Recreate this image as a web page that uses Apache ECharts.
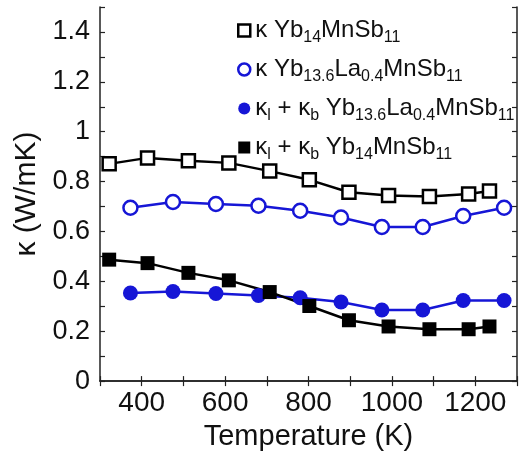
<!DOCTYPE html>
<html>
<head>
<meta charset="utf-8">
<script src="https://cdn.jsdelivr.net/npm/echarts@6/dist/echarts.min.js"></script>
<style>
  html, body { margin: 0; padding: 0; background: #fff; }
  #chart { width: 520px; height: 456px; }
</style>
</head>
<body>
<div id="chart"></div>
<script>
// kappa Yb14MnSb11 (open squares) and kl+kb Yb14MnSb11 (filled squares)
var tempYb14 = [322, 414, 512, 609, 707, 802, 897, 992, 1090, 1184, 1234]
var kapYb14 = [0.871, 0.895, 0.884, 0.875, 0.842, 0.807, 0.757, 0.744, 0.740, 0.750, 0.762]
var klbYb14 = [0.487, 0.473, 0.434, 0.404, 0.357, 0.301, 0.244, 0.219, 0.208, 0.208, 0.219]

// kappa Yb13.6La0.4MnSb11 (open circles) and kl+kb (filled circles)
var tempLa = [373, 475, 578, 680, 780, 878, 976, 1074, 1171, 1269]
var kapLa = [0.695, 0.718, 0.710, 0.703, 0.683, 0.656, 0.618, 0.618, 0.662, 0.695]
var klbLa = [0.353, 0.359, 0.351, 0.343, 0.334, 0.317, 0.285, 0.285, 0.323, 0.323]

var seriesNames = ['k14', 'k136', 'klb136', 'klb14']
var legendTexts = [
    '{a|κ Yb}{s|14}{a|MnSb}{s|11}',
    '{a|κ Yb}{s|13.6}{a|La}{s|0.4}{a|MnSb}{s|11}',
    '{a|κ}{s|l}{a| + κ}{s|b}{a| Yb}{s|13.6}{a|La}{s|0.4}{a|MnSb}{s|11}',
    '{a|κ}{s|l}{a| + κ}{s|b}{a| Yb}{s|14}{a|MnSb}{s|11}'
]

var BLUE = '#1616d6'
var FONT = "'Liberation Sans', Arial, Helvetica, sans-serif"

function pairs(xs, ys){
    return xs.map(function(x, i){ return [x, ys[i]] })
}

var chart = echarts.init(document.getElementById('chart'))

var axisLine = { show: true, lineStyle: { color: '#222', width: 1.5 } }
var tickStyle = { show: true, inside: true, length: 5, lineStyle: { color: '#222', width: 1.2 } }

var option = {
    animation: false,
    backgroundColor: '#fff',
    grid: { left: 100, right: -4, top: 7, bottom: 72 },
    legend: {
        orient: 'vertical',
        left: 232,
        top: 10,
        itemWidth: 12,
        itemHeight: 12,
        itemGap: 8,
        selectedMode: false,
        formatter: function(name){
            return legendTexts[seriesNames.indexOf(name)]
        },
        textStyle: {
            color: '#111',
            fontFamily: FONT,
            rich: {
                a: { fontSize: 24, lineHeight: 24, fontFamily: FONT, color: '#111' },
                s: { fontSize: 16, lineHeight: 16, padding: [15, 0, 0, 0], fontFamily: FONT, color: '#111' }
            }
        },
        data: [
            { name: 'k14', icon: 'rect', itemStyle: { color: '#fff', borderColor: '#000', borderWidth: 2.5 } },
            { name: 'k136', icon: 'circle', itemStyle: { color: '#fff', borderColor: BLUE, borderWidth: 2.5 } },
            { name: 'klb136', icon: 'circle', itemStyle: { color: BLUE, borderColor: BLUE, borderWidth: 0 } },
            { name: 'klb14', icon: 'rect', itemStyle: { color: '#000', borderColor: '#000', borderWidth: 0 } }
        ]
    },
    xAxis: [
        {
            type: 'value', min: 300, max: 1300, interval: 100,
            name: 'Temperature (K)', nameLocation: 'middle', nameGap: 35,
            nameTextStyle: { fontSize: 29, fontFamily: FONT, color: '#111' },
            axisLine: axisLine, axisTick: tickStyle, splitLine: { show: false },
            axisLabel: {
                margin: 8, fontSize: 28, fontFamily: FONT, color: '#111',
                formatter: function(v){ return v % 200 === 0 ? String(v) : '' }
            }
        },
        {
            type: 'value', position: 'top', min: 300, max: 1300, interval: 100,
            axisLine: axisLine, axisTick: tickStyle, splitLine: { show: false },
            axisLabel: { show: false }
        }
    ],
    yAxis: [
        {
            type: 'value', min: 0, max: 1.5, interval: 0.1,
            name: 'κ (W/mK)', nameLocation: 'middle', nameGap: 57,
            nameTextStyle: { fontSize: 30, fontFamily: FONT, color: '#111' },
            axisLine: axisLine, axisTick: tickStyle, splitLine: { show: false },
            axisLabel: {
                margin: 10, fontSize: 27, fontFamily: FONT, color: '#111',
                formatter: function(v){
                    var n = Math.round(v * 10)
                    return n % 2 === 0 && n < 15 ? String(n / 10) : ''
                }
            }
        },
        {
            type: 'value', position: 'right', min: 0, max: 1.5, interval: 0.1,
            axisLine: axisLine, axisTick: tickStyle, splitLine: { show: false },
            axisLabel: { show: false }
        }
    ],
    series: [
        {
            name: 'k14', type: 'line', data: pairs(tempYb14, kapYb14),
            symbol: 'rect', symbolSize: 13,
            lineStyle: { color: '#000', width: 2.5 },
            itemStyle: { color: '#fff', borderColor: '#000', borderWidth: 2.5 }
        },
        {
            name: 'k136', type: 'line', data: pairs(tempLa, kapLa),
            symbol: 'circle', symbolSize: 14,
            lineStyle: { color: BLUE, width: 2.5 },
            itemStyle: { color: '#fff', borderColor: BLUE, borderWidth: 2.5 }
        },
        {
            name: 'klb136', type: 'line', data: pairs(tempLa, klbLa),
            symbol: 'circle', symbolSize: 15,
            lineStyle: { color: BLUE, width: 2.5 },
            itemStyle: { color: BLUE, borderColor: BLUE, borderWidth: 0 }
        },
        {
            name: 'klb14', type: 'line', data: pairs(tempYb14, klbYb14),
            symbol: 'rect', symbolSize: 14,
            lineStyle: { color: '#000', width: 2.5 },
            itemStyle: { color: '#000', borderColor: '#000', borderWidth: 0 }
        }
    ]
}

chart.setOption(option)
</script>
</body>
</html>
